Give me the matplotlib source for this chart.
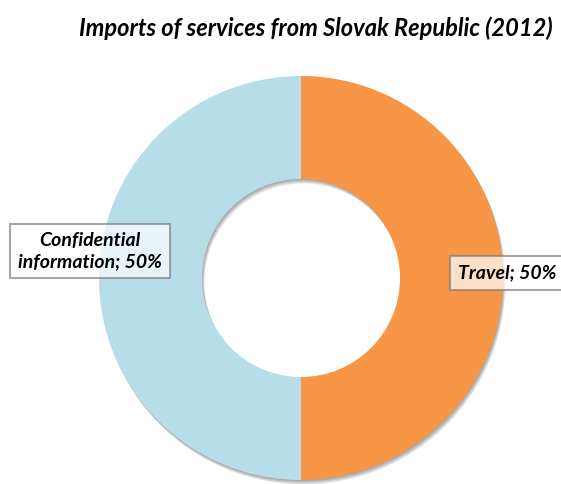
import matplotlib.pyplot as plt

categories = ['Travel', 'Confidential\ninformation']
shares = [50, 50]
colors = ['#F79646', '#B7DDE8']
title = 'Imports of services from Slovak Republic (2012)'

plt.rcParams['font.family'] = ['Lato', 'DejaVu Sans']

fig = plt.figure(figsize=[5.61, 4.84], dpi=100)
ax = fig.add_axes([0, 0, 1, 1])

cx, cy, r, w = 301, 206, 202, 103

# soft shadow under the ring
for k in range(1, 6):
    ax.pie([1], colors=['#505050'], center=(cx + 0.5 * k, cy - 0.9 * k), radius=r,
           frame=True, wedgeprops=dict(width=w, linewidth=0, alpha=0.12))

wedges, _ = ax.pie(shares, colors=colors, startangle=90, counterclock=False,
                   center=(cx, cy), radius=r, frame=True,
                   wedgeprops=dict(width=w, linewidth=0))
ax.set_xlim(0, 561)
ax.set_ylim(0, 484)
ax.set_aspect('equal')
ax.axis('off')

box = dict(boxstyle='square,pad=0.42', facecolor='white', alpha=0.7,
           edgecolor='#808080', linewidth=1.5)
pos = [(507, 211), (90, 233)]
for (x, y), cat, val in zip(pos, categories, shares):
    ax.text(x, y, f'{cat}; {val}%', ha='center', va='center', fontsize=14,
            fontweight='bold', fontstyle='italic', bbox=box, linespacing=1.25)

fig.text(316 / 561, 1 - 28 / 484, title, ha='center', va='center', fontsize=17,
         fontweight='bold', fontstyle='italic')

fig.savefig('out.png', dpi=100)
